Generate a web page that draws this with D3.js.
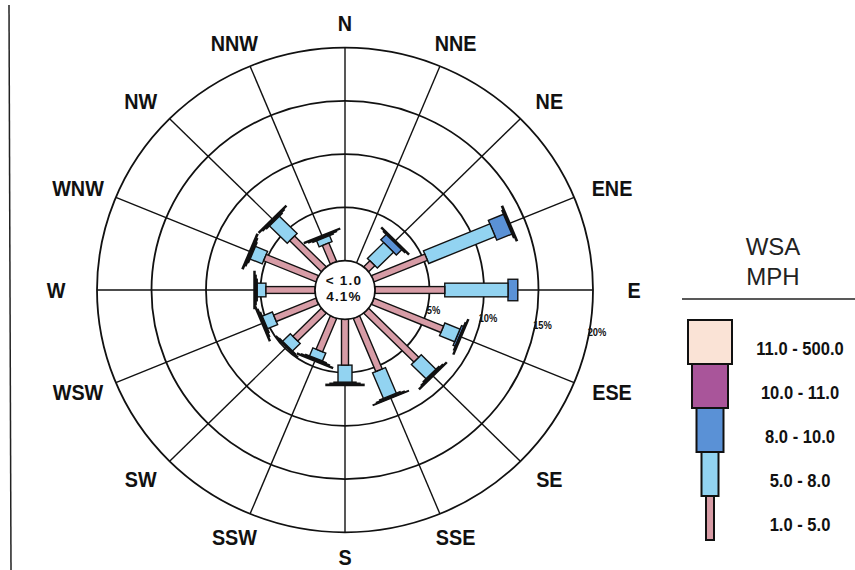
<!DOCTYPE html>
<html><head><meta charset="utf-8">
<script src="https://cdn.jsdelivr.net/npm/d3@7"></script>
<style>body{margin:0;background:#fff;} svg{display:block;}</style>
</head><body><svg id="chart" width="855" height="570"></svg>
<script>
const directions = ["N","NNE","NE","ENE","E","ESE","SE","SSE","S","SSW","SW","WSW","W","WNW","NW","NNW"];
const speedClasses = ["1.0 - 5.0","5.0 - 8.0","8.0 - 10.0","10.0 - 11.0","11.0 - 500.0"];
// percent frequency per direction for each speed class
const freq1to5   = [0,0,0.8,5.3,6.4,6.9,6.5,5.4,4.3,3.4,3.7,4.2,4.5,5.2,4.1,1.9];
const freq5to8   = [0,0,2.1,6.6,5.8,1.5,1.9,2.6,1.6,0.8,1.0,1.0,0.8,1.2,2.3,0.6];
const freq8to10  = [0,0,0.7,1.5,0.9,0.2,0.1,0.1,0.1,0.1,0.05,0.1,0.1,0.1,0.1,0.1];
const freq10to11 = [0,0,0.1,0.12,0,0.1,0.1,0.1,0.1,0.1,0.1,0.1,0.1,0.12,0.1,0.1];
const freq11plus = [0,0,0.1,0.12,0,0.1,0.1,0.05,0.12,0.1,0,0.1,0.1,0.12,0.1,0.1];
const ringValues = [5,10,15,20];
const ringLabels = ["5%","10%","15%","20%"];
const calmText = ["< 1.0","4.1%"];
const legendTitle = ["WSA","MPH"];

const series = [freq1to5,freq5to8,freq8to10,freq10to11,freq11plus];
const colors = ["#d79ca6","#92d3f1","#5a91d6","#a9559a","#fae3d6"];
const barWidths = [7,14,22,30,38];
const legendWidths = [8,17,27,36,44];
const FONT = "Liberation Sans, Arial, sans-serif";

const svg = d3.select("#chart");
const cx = 345, cy = 290;
const r = d3.scaleLinear().domain([0,20]).range([30,248]);
const ang = d3.scalePoint().domain(directions).range([0,337.5]);
const color = d3.scaleOrdinal(speedClasses, colors);
const bw = d3.scaleOrdinal(speedClasses, barWidths);
const lw = d3.scaleOrdinal(speedClasses, legendWidths);

// left border line
svg.append("line").attr("x1",9).attr("y1",5).attr("x2",11).attr("y2",570)
  .attr("stroke","#222").attr("stroke-width",1.5);

const rose = svg.append("g").attr("transform",`translate(${cx},${cy}) scale(1,0.977)`);

// spokes
rose.selectAll("line.spoke").data(directions).join("line").attr("class","spoke")
  .attr("transform",d=>`rotate(${ang(d)})`)
  .attr("x1",0).attr("y1",-r(0)).attr("x2",0).attr("y2",-r(20))
  .attr("stroke","#111").attr("stroke-width",1.4);

// rings
rose.selectAll("circle.ring").data(ringValues).join("circle").attr("class","ring")
  .attr("r",d=>r(d)).attr("fill","none").attr("stroke","#111").attr("stroke-width",1.8);

// bars
const barG = rose.selectAll("g.bar").data(directions).join("g").attr("class","bar")
  .attr("transform",d=>`rotate(${ang(d)})`);
barG.each(function(d,i){
  let cum = 0;
  const segs = [];
  speedClasses.forEach((c,k)=>{
    const v = series[k][i];
    if (v>0) segs.push({c, start:cum, end:cum+v});
    cum += v;
  });
  d3.select(this).selectAll("rect").data(segs.slice().reverse()).join("rect")
    .attr("x",s=>-bw(s.c)/2).attr("width",s=>bw(s.c))
    .attr("y",s=>-r(s.end)).attr("height",s=>r(s.end)-r(s.start))
    .attr("fill",s=>color(s.c)).attr("stroke","#111").attr("stroke-width",1.4);
});

// calm circle
rose.append("circle").attr("r",r(0)).attr("fill","#fff").attr("stroke","#111").attr("stroke-width",1.7);

svg.append("g").selectAll("text").data(calmText).join("text")
  .attr("x",cx-1).attr("y",(d,i)=>cy-5+i*16)
  .attr("text-anchor","middle").attr("font-family",FONT)
  .attr("font-weight","bold").attr("font-size",13.5).attr("letter-spacing",1.2).attr("fill","#111")
  .text(d=>d);

// ring labels
svg.append("g").selectAll("text").data(ringValues).join("text")
  .attr("transform",d=>`translate(${cx+r(d)+4},${cy+13.5+0.13*r(d)}) scale(0.85,1)`)
  .attr("text-anchor","middle").attr("font-family",FONT)
  .attr("font-weight","bold").attr("font-size",11).attr("fill","#111")
  .text((d,i)=>ringLabels[i]);

// direction labels
const lrx = 289, lry = 267;
svg.append("g").selectAll("text").data(directions).join("text")
  .attr("transform",d=>`translate(${cx+lrx*Math.sin(ang(d)*Math.PI/180)},${cy-lry*Math.cos(ang(d)*Math.PI/180)}) scale(0.9,1)`)
  .attr("dy","0.36em")
  .attr("text-anchor","middle").attr("font-family",FONT)
  .attr("font-weight","bold").attr("font-size",22).attr("fill","#111")
  .text(d=>d);

// legend
const leg = svg.append("g");
leg.selectAll("text.title").data(legendTitle).join("text").attr("class","title")
  .attr("x",773).attr("y",(d,i)=>255+i*30).attr("text-anchor","middle")
  .attr("font-family",FONT).attr("font-size",24).attr("fill","#222")
  .text(d=>d);
leg.append("line").attr("x1",682).attr("x2",855).attr("y1",299).attr("y2",299)
  .attr("stroke","#222").attr("stroke-width",1.5);

const legY = d3.scaleBand().domain(speedClasses.slice().reverse()).range([320,540]);
leg.selectAll("rect").data(speedClasses).join("rect")
  .attr("x",d=>710-lw(d)/2).attr("width",d=>lw(d))
  .attr("y",d=>legY(d)).attr("height",legY.bandwidth())
  .attr("fill",d=>color(d)).attr("stroke","#111").attr("stroke-width",2);
leg.selectAll("text.lab").data(speedClasses).join("text").attr("class","lab")
  .attr("transform",d=>`translate(800,${legY(d)+legY.bandwidth()/2+13}) scale(0.92,1)`)
  .attr("text-anchor","middle").attr("font-family",FONT)
  .attr("font-weight","bold").attr("font-size",18).attr("fill","#111")
  .text(d=>d);
</script></body></html>
